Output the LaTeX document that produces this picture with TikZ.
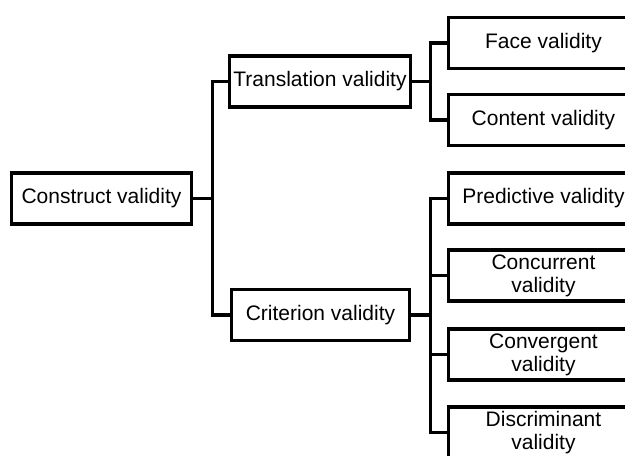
\documentclass[tikz,border=0pt]{standalone}
\usepackage{fontspec}
\setmainfont{Liberation Sans}

\begin{document}
\begin{tikzpicture}[x=1pt, y=-1pt, line width=3.5pt,
        box/.style={draw, rectangle, inner sep=0pt, align=center,
            minimum height=51pt, font=\fontsize{21}{23}\selectfont}]
        \clip (0,0) rectangle (625,456);

        \node[box, minimum width=180pt] (con) at (101.5,198.5) {Construct validity};
        \node[box, minimum width=181pt] (tra) at (320,81.5)    {Translation validity};
        \node[box, minimum width=178pt] (cri) at (320.5,315)   {Criterion validity};

        \node[box, minimum width=190pt] (face) at (543.5,43)    {Face validity};
        \node[box, minimum width=190pt] (cont) at (543.5,120)   {Content validity};
        \node[box, minimum width=190pt] (pred) at (543.5,198.5) {Predictive validity};
        \node[box, minimum width=190pt] (conc) at (543.5,275.5) {Concurrent\\validity};
        \node[box, minimum width=190pt] (conv) at (543.5,354.5) {Convergent\\validity};
        \node[box, minimum width=190pt] (disc) at (543.5,432.5) {Discriminant\\validity};

        \draw (con.east) -- ++(19,0) |- (tra.west);
        \draw (con.east) -- ++(19,0) |- (cri.west);

        \draw (tra.east) -- ++(18,0) |- (face.west);
        \draw (tra.east) -- ++(18,0) |- (cont.west);

        \draw (cri.east) -- ++(19,0) |- (pred.west);
        \draw (cri.east) -- ++(19,0) |- (conc.west);
        \draw (cri.east) -- ++(19,0) |- (conv.west);
        \draw (cri.east) -- ++(19,0) |- (disc.west);
    \end{tikzpicture}
\end{document}
